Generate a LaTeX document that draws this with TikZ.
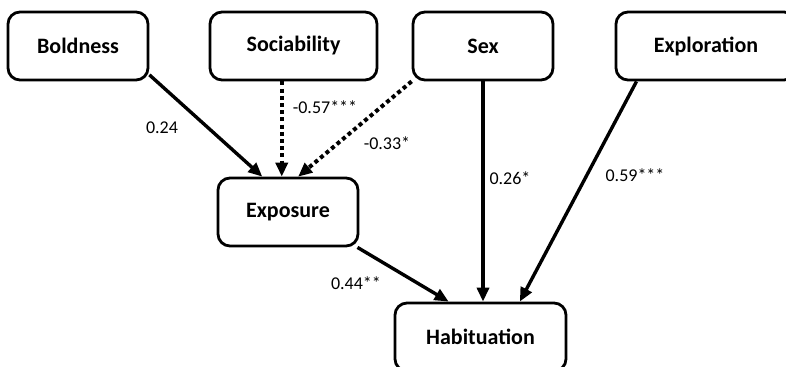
\documentclass[tikz,border=0pt]{standalone}
\usepackage{fontspec}
\setmainfont{Carlito}
\usepackage{tikz}
\usetikzlibrary{
  arrows.meta,
  positioning,
  calc
}

\begin{document}
\begin{tikzpicture}[
  x=0.5pt, y=-0.5pt,
  var/.style={draw, line width=1.4pt, rounded corners=6pt, minimum width=70pt,
              minimum height=34pt, inner sep=0pt, font=\fontsize{11}{13}\selectfont\bfseries},
  coef/.style={font=\fontsize{9}{11}\selectfont, inner sep=0pt},
  pathsig/.style={line width=1.7pt, -{Triangle[length=7pt,width=6pt]}},
  pathneg/.style={line width=2pt, dash pattern=on 2pt off 1.6pt,
                  -{Triangle[length=7pt,width=6pt]}}
]
  \clip (0,0) rectangle (786,366);

  % Predictors (top row)
  \node[var] at (78,46) (bold) {Boldness};
  \node[var, minimum width=83.5pt] at (293.5,46) (soc) {Sociability};
  \node[var] at (483,46) (sex) {Sex};
  \node[var, minimum width=90pt] at (706,46) (expl) {Exploration};

  % Mediator and outcome
  \node[var] at (288,212) (expo) {Exposure};
  \node[var, minimum width=85.5pt] at (480.5,337) (hab) {Habituation};

  % Paths into Exposure
  \draw[pathsig] (bold.-22.5) -- (expo.126);
  \draw[pathneg] (expo.100 |- soc.south) -- (expo.100);
  \draw[pathneg] (sex.south west) -- (expo.74);

  % Paths into Habituation
  \draw[pathsig] (sex.south) -- (sex.south |- hab.north);
  \draw[pathsig] (expl.207) -- (hab.42);
  \draw[pathsig] (expo.-27) -- (hab.132);

  % Coefficients
  \node[coef] at (162,128) (c-bold) {0.24};
  \node[coef] at (325,107) (c-soc) {-0.57***};
  \node[coef] at (387,143) (c-sex) {-0.33*};
  \node[coef] at (510,178) (c-sexhab) {0.26*};
  \node[coef] at (635,175) (c-expl) {0.59***};
  \node[coef] at (356,283) (c-expo) {0.44**};
\end{tikzpicture}
\end{document}
